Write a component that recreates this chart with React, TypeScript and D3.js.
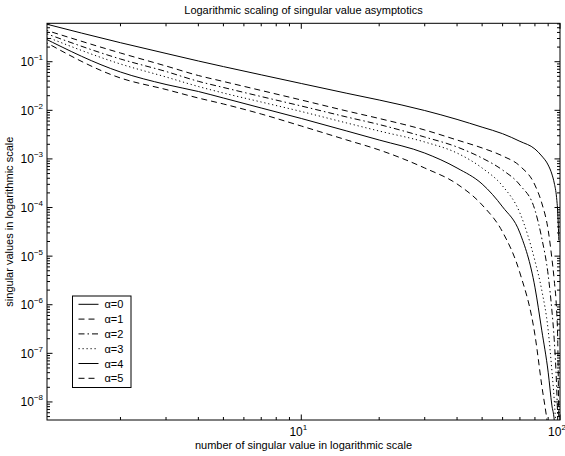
import React from "react";
import * as d3 from "d3";

const N_VALUES = [1, 2, 3, 4, 5, 7, 10, 15, 20, 30, 40, 50, 60, 70, 80, 85, 90, 93, 95, 97, 98, 99];

const ALPHA_0 = [0.622, 0.246, 0.148, 0.1035, 0.0793, 0.0537, 0.0356, 0.0224, 0.0163, 0.0099, 0.0065, 0.0045, 0.0033, 0.0023, 0.0016, 0.00115, 7.5e-4, 4.9e-4, 3.2e-4, 1.6e-4, 8.1e-5, 2.1e-5];
const ALPHA_1 = [0.467, 0.151, 0.0816, 0.052, 0.0392, 0.0256, 0.0163, 0.00968, 0.00679, 0.00394, 0.00245, 0.00168, 0.00115, 7.14e-4, 2.9e-4, 1.24e-4, 3.45e-5, 9.1e-6, 3.2e-6, 7.8e-7, 1.9e-7, 2.6e-9];
const ALPHA_2 = [0.403, 0.1137, 0.0629, 0.0395, 0.0295, 0.0192, 0.01227, 0.00728, 0.0051, 0.00282, 0.00176, 0.00104, 5.9e-4, 2.9e-4, 8.9e-5, 2.36e-5, 4.1e-6, 7.8e-7, 1.9e-7, 2.2e-8, 4.2e-9, 4.0e-10];
const ALPHA_3 = [0.349, 0.0897, 0.0485, 0.0309, 0.0227, 0.01482, 0.00945, 0.00548, 0.00375, 0.00223, 0.00132, 6.5e-4, 2.77e-4, 7.7e-5, 8.0e-6, 2.0e-6, 3.0e-7, 4.5e-8, 1.1e-8, 1.6e-9, 4.0e-10, 3.7e-11];
const ALPHA_4 = [0.316, 0.0614, 0.034, 0.0244, 0.0179, 0.01116, 0.00679, 0.00375, 0.00245, 0.00132, 6.5e-4, 3.05e-4, 1.03e-4, 3.0e-5, 2.3e-6, 3.0e-7, 4.1e-8, 8.6e-9, 4.2e-9, 6.4e-10, 1.5e-10, 1.4e-11];
const ALPHA_5 = [0.273, 0.0462, 0.0268, 0.0179, 0.01349, 0.00839, 0.00475, 0.00245, 0.00153, 6.5e-4, 3.05e-4, 1.13e-4, 3.13e-5, 4.5e-6, 2.4e-7, 2.2e-8, 2.6e-9, 4.0e-10, 9.5e-11, 1.4e-11, 3.6e-12, 3.2e-13];

const SERIES_LABELS = ["α=0", "α=1", "α=2", "α=3", "α=4", "α=5"];
const SERIES_VALUES = [ALPHA_0, ALPHA_1, ALPHA_2, ALPHA_3, ALPHA_4, ALPHA_5];
const SERIES_DASH = ["", "6,4", "6,3,1.5,3", "1.2,2.8", "", "6,4"];

const X_MAJOR = [10, 100];
const X_MAJOR_EXP = ["1", "2"];
const Y_MAJOR = [1e-1, 1e-2, 1e-3, 1e-4, 1e-5, 1e-6, 1e-7, 1e-8];
const Y_MAJOR_EXP = ["−1", "−2", "−3", "−4", "−5", "−6", "−7", "−8"];

const TITLE = "Logarithmic scaling of singular value asymptotics";
const X_LABEL = "number of singular value in logarithmic scale";
const Y_LABEL = "singular values in logarithmic scale";

const W = 565;
const H = 456;
const LEFT = 47;
const RIGHT = 560;
const TOP = 23.3;
const BOTTOM = 420;
const FONT = "'Liberation Sans', Arial, Helvetica, sans-serif";

export default function App() {
  const x = d3.scaleLog().domain([1.04, 100]).range([LEFT, RIGHT]);
  const y = d3.scaleLog().domain([4.25e-9, 0.617]).range([BOTTOM, TOP]);

  const xMinor: number[] = [];
  for (let e = 0; e <= 1; e++) {
    for (let k = 2; k <= 9; k++) {
      const v = k * Math.pow(10, e);
      if (v > 1.04 && v < 100) xMinor.push(v);
    }
  }
  const yMinor: number[] = [];
  for (let e = -9; e <= -1; e++) {
    for (let k = 2; k <= 9; k++) {
      const v = k * Math.pow(10, e);
      if (v > 4.25e-9 && v < 0.617) yMinor.push(v);
    }
  }

  const line = d3
    .line<[number, number]>()
    .x((d) => x(d[0]))
    .y((d) => y(d[1]))
    .curve(d3.curveMonotoneX);

  const majorLen = 5.5;
  const minorLen = 3;

  return (
    <svg
      width={W}
      height={H}
      style={{ position: "absolute", left: 0, top: 0, background: "#fff" }}
      fontFamily={FONT}
    >
      <defs>
        <clipPath id="plotclip">
          <rect x={LEFT} y={TOP} width={RIGHT - LEFT} height={BOTTOM - TOP} />
        </clipPath>
      </defs>
      <rect x={0} y={0} width={W} height={H} fill="#fff" />

      <g clipPath="url(#plotclip)">
        {SERIES_VALUES.map((vals, i) => (
          <path
            key={i}
            d={line(N_VALUES.map((n, j) => [n, vals[j]]) as [number, number][]) || ""}
            fill="none"
            stroke="#000"
            strokeWidth={1}
            strokeDasharray={SERIES_DASH[i] || undefined}
          />
        ))}
      </g>

      <g stroke="#000" strokeWidth={1}>
        {X_MAJOR.map((v) => (
          <g key={"xm" + v}>
            <line x1={x(v)} x2={x(v)} y1={BOTTOM} y2={BOTTOM - majorLen} />
            <line x1={x(v)} x2={x(v)} y1={TOP} y2={TOP + majorLen} />
          </g>
        ))}
        {xMinor.map((v) => (
          <g key={"xn" + v}>
            <line x1={x(v)} x2={x(v)} y1={BOTTOM} y2={BOTTOM - minorLen} />
            <line x1={x(v)} x2={x(v)} y1={TOP} y2={TOP + minorLen} />
          </g>
        ))}
        {Y_MAJOR.map((v) => (
          <g key={"ym" + v}>
            <line x1={LEFT} x2={LEFT + majorLen} y1={y(v)} y2={y(v)} />
            <line x1={RIGHT} x2={RIGHT - majorLen} y1={y(v)} y2={y(v)} />
          </g>
        ))}
        {yMinor.map((v) => (
          <g key={"yn" + v}>
            <line x1={LEFT} x2={LEFT + minorLen} y1={y(v)} y2={y(v)} />
            <line x1={RIGHT} x2={RIGHT - minorLen} y1={y(v)} y2={y(v)} />
          </g>
        ))}
      </g>

      <rect
        x={LEFT}
        y={TOP}
        width={RIGHT - LEFT}
        height={BOTTOM - TOP}
        fill="none"
        stroke="#000"
        strokeWidth={1}
      />

      {Y_MAJOR.map((v, i) => (
        <text key={"yl" + v} x={LEFT - 4} y={y(v) + 4.5} textAnchor="end" fontSize={12} fill="#000">
          10
          <tspan fontSize={8} dy={-6}>{Y_MAJOR_EXP[i]}</tspan>
        </text>
      ))}

      {X_MAJOR.map((v, i) => (
        <text key={"xl" + v} x={x(v) - 3} y={BOTTOM + 16} textAnchor="middle" fontSize={12} fill="#000">
          10
          <tspan fontSize={8} dy={-6}>{X_MAJOR_EXP[i]}</tspan>
        </text>
      ))}

      <text x={(LEFT + RIGHT) / 2} y={14} textAnchor="middle" fontSize={11} fill="#000">
        {TITLE}
      </text>
      <text x={(LEFT + RIGHT) / 2} y={449} textAnchor="middle" fontSize={11} fill="#000">
        {X_LABEL}
      </text>
      <text
        transform={`translate(13, ${(TOP + BOTTOM) / 2}) rotate(-90)`}
        textAnchor="middle"
        fontSize={11}
        fill="#000"
      >
        {Y_LABEL}
      </text>

      <g>
        <rect x={72.5} y={296} width={58.5} height={91.5} fill="#fff" stroke="#000" strokeWidth={1} />
        {SERIES_LABELS.map((lab, i) => {
          const ly = 304.3 + i * 14.8;
          return (
            <g key={lab}>
              <line
                x1={78.5}
                x2={98.5}
                y1={ly}
                y2={ly}
                stroke="#000"
                strokeWidth={1}
                strokeDasharray={SERIES_DASH[i] || undefined}
              />
              <text x={104.5} y={ly + 4} fontSize={11} fill="#000">
                {lab}
              </text>
            </g>
          );
        })}
      </g>
    </svg>
  );
}
